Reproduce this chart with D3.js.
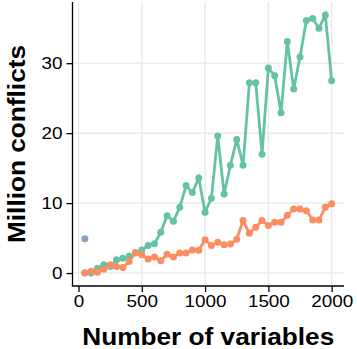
<!DOCTYPE html>
<meta charset="utf-8">
<style>
  body { margin: 0; background: #fff; }
  text { font-family: "Liberation Sans", Arial, sans-serif; fill: #000; }
</style>
<script src="https://d3js.org/d3.v7.min.js"></script>
<div id="chart"></div>
<script>
  // data (million conflicts)
  var variables = [50, 100, 150, 200, 250, 300, 350, 400, 450, 500,
    550, 600, 650, 700, 750, 800, 850, 900, 950, 1000,
    1050, 1100, 1150, 1200, 1250, 1300, 1350, 1400, 1450, 1500,
    1550, 1600, 1650, 1700, 1750, 1800, 1850, 1900, 1950, 2000]
  var greenSeries = [0.05, 0.0, 0.7, 1.2, 0.95, 1.9, 2.1, 2.4, 2.85, 3.3,
    3.95, 4.2, 5.85, 8.2, 7.4, 9.4, 12.5, 11.5, 13.6, 8.7,
    10.7, 19.6, 11.3, 15.4, 19.1, 15.4, 27.2, 27.2, 17.0, 29.3,
    28.2, 22.9, 33.1, 26.3, 30.9, 36.1, 36.4, 35.0, 36.9, 27.5]
  var orangeSeries = [0.0, 0.25, 0.1, 0.55, 1.2, 0.95, 0.8, 1.65, 2.95, 2.6,
    2.0, 2.3, 1.75, 2.7, 2.3, 2.85, 2.85, 3.3, 3.25, 4.75,
    3.95, 4.4, 4.05, 4.15, 4.85, 7.5, 5.7, 6.55, 7.5, 6.8,
    7.25, 7.25, 8.25, 9.15, 9.15, 8.9, 7.6, 7.6, 9.4, 9.9]
  var bluePoint = { x: 50, y: 4.9 }
  var xTicks = [0, 500, 1000, 1500, 2000]
  var yTicks = [0, 10, 20, 30]

  var width = 357, height = 349
  var pLeft = 72.5, pRight = 344, pTop = 2, pBottom = 286

  var svg = d3.select("#chart").append("svg")
    .attr("width", width)
    .attr("height", height)

  var x = d3.scaleLinear().domain([-47.5, 2097.5]).range([pLeft, pRight])
  var y = d3.scaleLinear().domain([-1.85, 38.75]).range([pBottom, pTop])

  // grid lines
  svg.append("g").selectAll("line")
    .data(xTicks).enter().append("line")
    .attr("x1", function (d) { return x(d) }).attr("x2", function (d) { return x(d) })
    .attr("y1", pTop).attr("y2", pBottom)
    .attr("stroke", "#ebebeb").attr("stroke-width", 1.5)
  svg.append("g").selectAll("line")
    .data(yTicks).enter().append("line")
    .attr("y1", function (d) { return y(d) }).attr("y2", function (d) { return y(d) })
    .attr("x1", pLeft).attr("x2", pRight)
    .attr("stroke", "#ebebeb").attr("stroke-width", 1.5)

  function series(values, colour) {
    var pts = variables.map(function (v, i) { return [v, values[i]] })
    svg.append("path")
      .datum(pts)
      .attr("d", d3.line().x(function (d) { return x(d[0]) }).y(function (d) { return y(d[1]) }))
      .attr("fill", "none")
      .attr("stroke", colour)
      .attr("stroke-width", 2.8)
    svg.append("g").selectAll("circle")
      .data(pts).enter().append("circle")
      .attr("cx", function (d) { return x(d[0]) })
      .attr("cy", function (d) { return y(d[1]) })
      .attr("r", 3.5)
      .attr("fill", colour)
  }
  series(greenSeries, "#66c2a5")
  series(orangeSeries, "#fc8d62")

  svg.append("circle")
    .attr("cx", x(bluePoint.x))
    .attr("cy", y(bluePoint.y))
    .attr("r", 3.5)
    .attr("fill", "#8da0cb")

  // axes
  var xAxis = svg.append("g")
    .attr("transform", "translate(0," + pBottom + ")")
    .call(d3.axisBottom(x).tickValues(xTicks).tickFormat(d3.format("d"))
      .tickSize(6).tickPadding(4).tickSizeOuter(0))
  var yAxis = svg.append("g")
    .attr("transform", "translate(" + pLeft + ",0)")
    .call(d3.axisLeft(y).tickValues(yTicks).tickFormat(d3.format("d"))
      .tickSize(6).tickPadding(4).tickSizeOuter(0))

  ;[xAxis, yAxis].forEach(function (a) {
    a.select(".domain").attr("stroke", "#000").attr("stroke-width", 1.3)
    a.selectAll(".tick line").attr("stroke", "#000").attr("stroke-width", 1.3)
    a.selectAll(".tick text")
      .style("font-size", "16px")
      .style("font-family", "'Liberation Sans', Arial, sans-serif")
      .attr("fill", "#000")
  })
  // the reference text is a little wider than Arial
  xAxis.selectAll(".tick text").attr("transform", "scale(1.18,1)")
  yAxis.selectAll(".tick text").each(function () {
    var t = d3.select(this)
    var px = +t.attr("x")
    t.attr("transform", "translate(" + px + ",0) scale(1.18,1) translate(" + (-px) + ",0)")
  })
  // extend the axis lines to the corner
  xAxis.select(".domain").attr("d", "M" + (pLeft - 0.6) + ",0H" + pRight)
  yAxis.select(".domain").attr("d", "M0," + pTop + "V" + (pBottom + 0.6))

  // titles
  svg.append("text")
    .attr("transform", "translate(" + ((pLeft + pRight) / 2) + ",345) scale(1.14,1)")
    .attr("text-anchor", "middle")
    .style("font-size", "23px")
    .style("font-weight", "bold")
    .text("Number of variables")

  svg.append("text")
    .attr("transform", "translate(25," + ((pTop + pBottom) / 2) + ") rotate(-90) scale(1.14,1)")
    .attr("text-anchor", "middle")
    .style("font-size", "23px")
    .style("font-weight", "bold")
    .text("Million conflicts")
</script>
